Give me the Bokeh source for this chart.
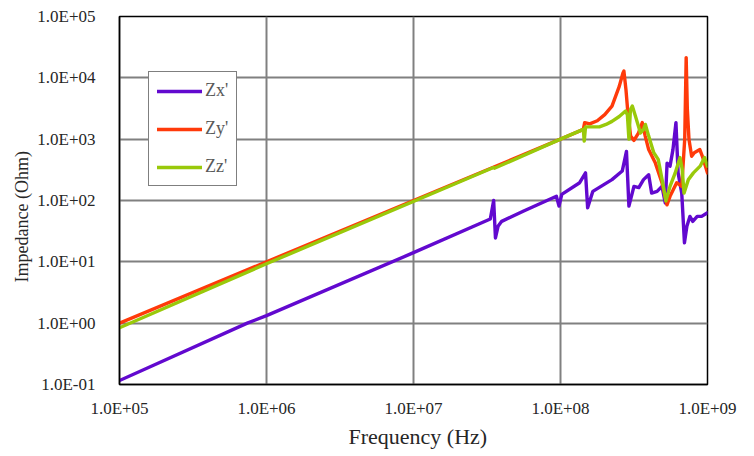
from bokeh.plotting import figure
from bokeh.models import FixedTicker, CustomJSTickFormatter, Legend, LegendItem, Title
from bokeh.embed import file_html
from bokeh.resources import INLINE

# ---- data ----
zx_freq = [1.0e5, 7.4e5, 1.0e6, 1.0e7, 3.33e7, 3.51e7, 3.61e7, 3.76e7, 3.98e7, 5.62e7,
           9.38e7, 9.77e7, 1.02e8, 1.35e8, 1.48e8, 1.53e8, 1.66e8, 2.24e8, 2.63e8, 2.81e8,
           2.92e8, 3.16e8, 3.41e8, 3.67e8, 3.98e8, 4.17e8, 4.54e8, 4.90e8, 5.16e8, 5.31e8,
           5.56e8, 5.82e8, 6.10e8, 6.31e8, 6.68e8, 6.97e8, 7.24e8, 7.59e8, 7.94e8, 8.51e8,
           9.12e8, 1.0e9]
zx_imp = [0.116, 1.0, 1.33, 14.1, 50.0, 100.0, 24.5, 38.0, 45.7, 67.6,
          117.0, 81.0, 126.0, 195.0, 282.0, 76.0, 141.0, 219.0, 302.0, 631.0,
          81.0, 170.0, 162.0, 219.0, 263.0, 132.0, 141.0, 170.0, 91.0, 407.0,
          363.0, 676.0, 1862.0, 282.0, 132.0, 20.4, 38.0, 55.0, 45.7, 55.0,
          55.0, 63.0]

zy_freq = [1.0e5, 1.0e8, 1.43e8, 1.46e8, 1.58e8, 1.78e8, 2.0e8, 2.24e8, 2.51e8, 2.66e8,
           2.70e8, 2.79e8, 2.88e8, 3.0e8, 3.16e8, 3.39e8, 3.60e8, 3.77e8, 3.98e8, 4.42e8,
           4.90e8, 5.30e8, 5.56e8, 6.17e8, 6.68e8, 7.0e8, 7.16e8, 7.29e8, 7.48e8, 7.80e8,
           8.13e8, 8.87e8, 9.23e8, 1.0e9]
zy_imp = [1.0, 1000.0, 1445.0, 1862.0, 1778.0, 1995.0, 2512.0, 3467.0, 7244.0, 12023.0,
          12880.0, 6310.0, 2512.0, 1122.0, 955.0, 1259.0, 1862.0, 1122.0, 676.0, 407.0,
          195.0, 85.0, 117.0, 195.0, 170.0, 1000.0, 21380.0, 3162.0, 1000.0, 525.0,
          603.0, 676.0, 525.0, 282.0]

zz_freq = [1.0e5, 1.0e6, 3.5e7, 3.55e7, 1.0e8, 1.43e8, 1.45e8, 1.48e8, 1.84e8, 2.04e8,
           2.24e8, 2.51e8, 2.77e8, 2.85e8, 2.92e8, 2.99e8, 3.08e8, 3.24e8, 3.50e8, 3.67e8,
           3.78e8, 3.98e8, 4.31e8, 4.62e8, 5.01e8, 5.21e8, 5.56e8, 6.03e8, 6.50e8, 6.73e8,
           6.92e8, 7.41e8, 8.02e8, 8.91e8, 9.55e8, 1.0e9]
zz_imp = [0.84, 9.3, 345.0, 335.0, 1000.0, 1445.0, 933.0, 1585.0, 1585.0, 1738.0,
          1950.0, 2344.0, 2884.0, 2512.0, 1000.0, 3020.0, 3467.0, 2344.0, 1259.0, 1445.0,
          1738.0, 1122.0, 603.0, 468.0, 170.0, 98.0, 170.0, 282.0, 501.0, 324.0,
          132.0, 219.0, 282.0, 363.0, 501.0, 363.0]

series_names = ["Zx'", "Zy'", "Zz'"]
series_colors = ["#6209CF", "#FF3A0A", "#99C90A"]

x_ticks = [1e5, 1e6, 1e7, 1e8, 1e9]
x_tick_labels = ["1.0E+05", "1.0E+06", "1.0E+07", "1.0E+08", "1.0E+09"]
y_ticks = [1e-1, 1e0, 1e1, 1e2, 1e3, 1e4, 1e5]
y_tick_labels = ["1.0E-01", "1.0E+00", "1.0E+01", "1.0E+02", "1.0E+03", "1.0E+04", "1.0E+05"]

x_title = "Frequency (Hz)"
y_title = "Impedance (Ohm)"

FONT = "Liberation Serif"
TXT = "#262626"

p = figure(frame_width=588, frame_height=368, x_axis_type="log", y_axis_type="log",
           x_range=(1e5, 1e9), y_range=(0.1, 1e5),
           output_backend="svg", toolbar_location=None,
           min_border_left=119, min_border_right=31, min_border_top=16, min_border_bottom=40)

p.background_fill_color = "white"
p.border_fill_color = "white"
p.outline_line_color = "black"
p.outline_line_width = 1.5

fmt_code = """
let best = 0, bd = 1e9;
for (let i = 0; i < tvals.length; i++) {
  const d = Math.abs(Math.log10(tick) - Math.log10(tvals[i]));
  if (d < bd) { bd = d; best = i; }
}
return tlabels[best];
"""

p.xaxis.ticker = FixedTicker(ticks=x_ticks, minor_ticks=[])
p.yaxis.ticker = FixedTicker(ticks=y_ticks, minor_ticks=[])
p.xaxis.formatter = CustomJSTickFormatter(args=dict(tvals=x_ticks, tlabels=x_tick_labels), code=fmt_code)
p.yaxis.formatter = CustomJSTickFormatter(args=dict(tvals=y_ticks, tlabels=y_tick_labels), code=fmt_code)

for ax in (p.xaxis, p.yaxis):
    ax.major_tick_line_color = None
    ax.minor_tick_line_color = None
    ax.axis_line_color = "black"
    ax.axis_line_width = 1.5
    ax.major_label_text_font = FONT
    ax.major_label_text_font_size = "17px"
    ax.major_label_text_color = TXT

p.xaxis.major_label_standoff = 8
p.yaxis.major_label_standoff = 18

# axis titles as side titles
xt = Title(text=x_title, align="left", offset=229, standoff=2,
           text_font=FONT, text_font_size="22px", text_font_style="normal", text_color=TXT)
yt = Title(text=y_title, align="left", offset=102, standoff=5,
           text_font=FONT, text_font_size="18px", text_font_style="normal", text_color=TXT)
p.add_layout(xt, "below")
p.add_layout(yt, "left")

p.xgrid.ticker = FixedTicker(ticks=x_ticks, minor_ticks=[])
p.ygrid.ticker = FixedTicker(ticks=y_ticks, minor_ticks=[])
for g in (p.xgrid, p.ygrid):
    g.grid_line_color = "#808080"
    g.grid_line_width = 2

freqs = [zx_freq, zy_freq, zz_freq]
imps = [zx_imp, zy_imp, zz_imp]
renderers = []
for f, z, c in zip(freqs, imps, series_colors):
    r = p.line(f, z, line_color=c, line_width=3.4, line_join="round", line_cap="round")
    renderers.append(r)

legend = Legend(items=[LegendItem(label=n, renderers=[r]) for n, r in zip(series_names, renderers)],
                location=(29, 198))
legend.label_text_font = FONT
legend.label_text_font_size = "18px"
legend.label_text_color = "#595959"
legend.glyph_width = 45
legend.glyph_height = 20
legend.label_height = 20
legend.label_standoff = 3
legend.spacing = 17
legend.padding = 8
legend.margin = 0
legend.border_line_color = "black"
legend.border_line_width = 1.5
legend.background_fill_alpha = 1.0
p.add_layout(legend, "center")

open("out.html", "w").write(file_html(p, INLINE))
